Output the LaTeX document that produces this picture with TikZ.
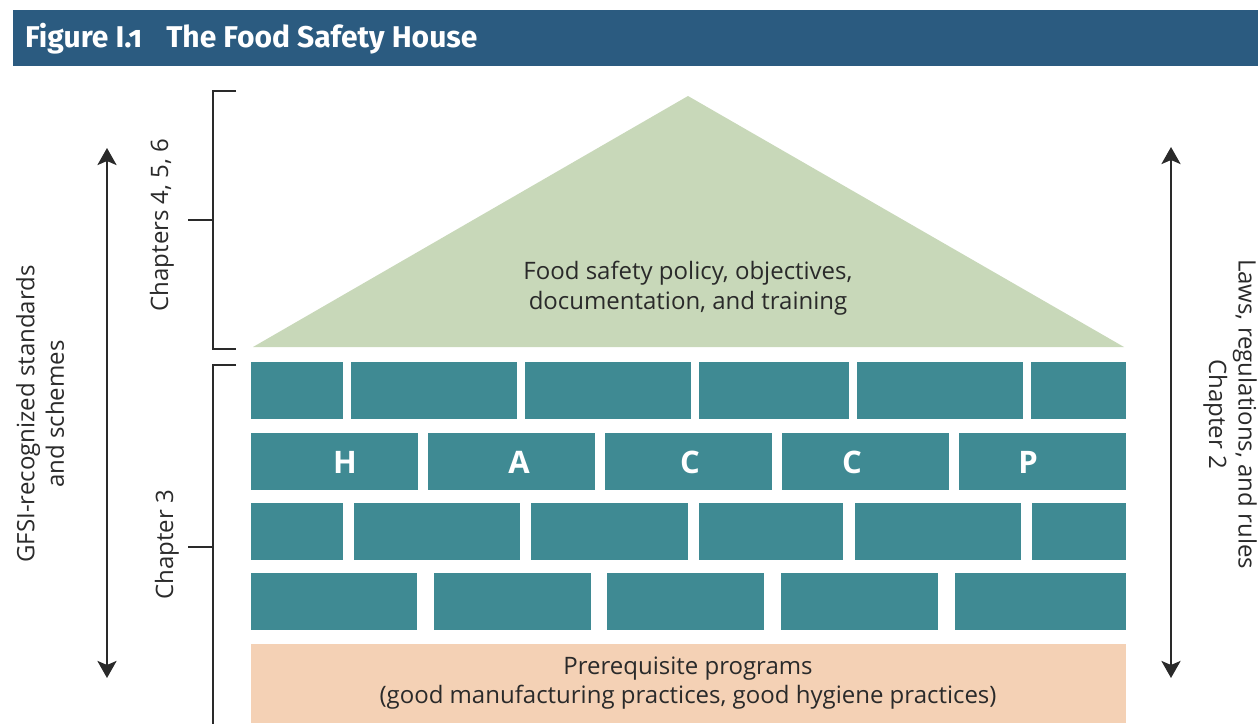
\documentclass[tikz,border=0pt]{standalone}
\usepackage{fontspec}
\setmainfont{Open Sans}
\newfontfamily\titlefont[Numbers=OldStyle]{Fira Sans}
\usetikzlibrary{arrows.meta}
\definecolor{titleblue}{HTML}{2B5B80}
\definecolor{brickteal}{HTML}{3F8A93}
\definecolor{roofgreen}{HTML}{C8D8B9}
\definecolor{peach}{HTML}{F4D1B5}
\definecolor{ink}{HTML}{2A2A2A}
\tikzset{
  brick/.style={fill=brickteal},
  bracketline/.style={draw=ink, line width=1.2pt},
  bigarrow/.style={draw=ink, line width=2.8pt, {Stealth[length=17pt,width=19pt,inset=4pt]}-{Stealth[length=17pt,width=19pt,inset=4pt]}},
  bodytext/.style={text=ink, font=\fontsize{24}{29.5}\selectfont, align=center, inner sep=0pt},
  letter/.style={text=white, font=\fontsize{31}{36}\selectfont\bfseries, inner sep=0pt}
}
\begin{document}
\begin{tikzpicture}[x=1pt,y=-1pt]
\useasboundingbox (0,0) rectangle (1258,723);
% title bar
\fill[titleblue] (13,10) rectangle (1258,66);
\node[anchor=base west, text=white, inner sep=0pt, font=\titlefont\bfseries\fontsize{30}{34}\selectfont] (title) at (25,47) {Figure I.1\hspace{0.8em}The Food Safety House};
% roof
\fill[roofgreen] (253,347) -- (688,96) -- (1124,347) -- cycle;
\node[bodytext] (roof) at (688,288) {Food safety policy, objectives,\\documentation, and training};
% bricks
\foreach \a/\b in {251/343,351/517,525/691,699/849,857/1023,1031/1126}
  \fill[brick] (\a,362) rectangle (\b,419);
\foreach \a/\b in {251/418,428/595,605/772,782/949,959/1126}
  \fill[brick] (\a,433) rectangle (\b,490);
\foreach \a/\b in {251/343,354/520,531/688,699/843,855/1021,1032/1126}
  \fill[brick] (\a,503) rectangle (\b,560);
\foreach \a/\b in {251/417,434/591,607/764,781/938,955/1126}
  \fill[brick] (\a,573) rectangle (\b,630);
\node[letter] (H) at (345,462) {H};
\node[letter] (A) at (519,462) {A};
\node[letter] (C1) at (690,462) {C};
\node[letter] (C2) at (852,462) {C};
\node[letter] (P) at (1028,462) {P};
% prerequisite
\fill[peach] (251,644) rectangle (1126,723);
\node[bodytext] (prereq) at (688,683) {Prerequisite programs\\(good manufacturing practices, good hygiene practices)};
% brackets
\draw[bracketline] (236,91) -- (213,91) -- (213,349) -- (236,349);
\draw[bracketline] (188,220) -- (213,220);
\draw[bracketline] (236,365) -- (213,365) -- (213,724);
\draw[bracketline] (188,547) -- (213,547);
\node[bodytext, rotate=90] (ch456) at (162,225) {Chapters 4, 5, 6};
\node[bodytext, rotate=90] (ch3) at (167,545) {Chapter 3};
% arrows
\coordinate (lt) at (107,148);
\coordinate (lb) at (107,678);
\coordinate (rt) at (1171,147);
\coordinate (rb) at (1171,678);
\draw[bigarrow] (lt) -- (lb);
\draw[bigarrow] (rt) -- (rb);
\node[bodytext, rotate=90] (gfsi) at (40,414) {GFSI-recognized standards\\and schemes};
\node[bodytext, rotate=-90] (laws) at (1230,414) {Laws, regulations, and rules\\Chapter 2};
\end{tikzpicture}
\end{document}
